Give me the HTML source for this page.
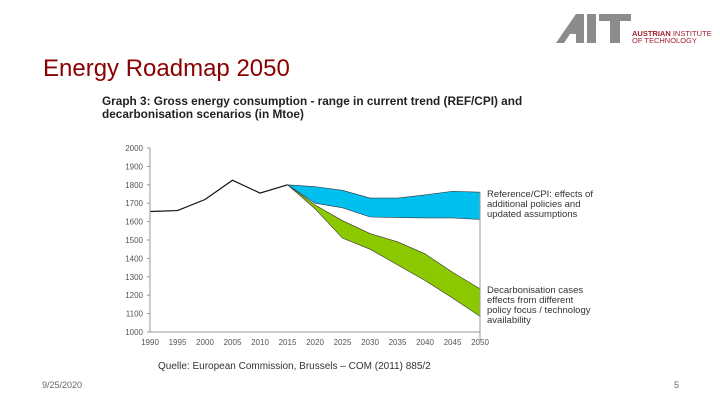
<!DOCTYPE html>
<html><head><meta charset="utf-8"><style>
body{margin:0;width:720px;height:405px;background:#fff;font-family:"Liberation Sans",sans-serif;position:relative;overflow:hidden}
.t{position:absolute;white-space:nowrap}
</style></head><body>
<div class="t" style="left:43px;top:55px;font-size:24px;color:#8b0000">Energy Roadmap 2050</div>
<div style="position:absolute;left:556px;top:12px">
<svg width="160" height="34"><polygon points="0,31 20,2 28,2 28,31 20,31 20,22 14,22 8,31" fill="#8c8c8c"/><rect x="31" y="2" width="9" height="29" fill="#8c8c8c"/><rect x="43" y="2" width="32" height="7" fill="#8c8c8c"/><rect x="54" y="2" width="10" height="29" fill="#8c8c8c"/>
<text x="76" y="24" font-size="7.5" fill="#a02030" font-family="Liberation Sans" font-weight="bold">AUSTRIAN <tspan font-weight="normal">INSTITUTE</tspan></text>
<text x="76" y="31" font-size="7.5" fill="#a02030" font-family="Liberation Sans">OF TECHNOLOGY</text></svg></div>
<div class="t" style="left:102px;top:95px;font-size:11.8px;font-weight:bold;color:#222;line-height:13px">Graph 3: Gross energy consumption - range in current trend (REF/CPI) and<br>decarbonisation scenarios (in Mtoe)</div>
<svg id="c" width="720" height="405" style="position:absolute;left:0;top:0"></svg>
<div class="t" style="left:487px;top:190px;font-size:9.5px;line-height:10px;color:#333">Reference/CPI: effects of<br>additional policies and<br>updated assumptions</div>
<div class="t" style="left:487px;top:286px;font-size:9.5px;line-height:10px;color:#333">Decarbonisation cases<br>effects from different<br>policy focus / technology<br>availability</div>
<div class="t" style="left:158px;top:361px;font-size:10px;color:#333">Quelle: European Commission, Brussels – COM (2011) 885/2</div>
<div class="t" style="left:42px;top:380px;font-size:9px;color:#666">9/25/2020</div>
<div class="t" style="left:674px;top:380px;font-size:9px;color:#666">5</div>
<script>
const years=[1990,1995,2000,2005,2010,2015,2020,2025,2030,2035,2040,2045,2050];
const history=[1655,1660,1720,1825,1755,1800];
const refUpper=[1800,1790,1770,1728,1728,1745,1765,1760];
const refLower=[1800,1700,1675,1625,1622,1620,1620,1612];
const decUpper=[1800,1690,1605,1535,1490,1425,1325,1235];
const decLower=[1800,1670,1510,1450,1365,1280,1185,1085];
const yTicks=[1000,1100,1200,1300,1400,1500,1600,1700,1800,1900,2000];
const NS="http://www.w3.org/2000/svg",svg=document.getElementById('c');
const X=y=>150+(y-1990)/60*330, Y=v=>332-(v-1000)/1000*184;
function mk(t,a){const e=document.createElementNS(NS,t);for(const k in a)e.setAttribute(k,a[k]);svg.appendChild(e);return e;}
const fy=years.slice(5);
function band(up,lo,col,name){const pts=fy.map((y,i)=>X(y)+','+Y(up[i])).concat(fy.map((y,i)=>X(y)+','+Y(lo[i])).reverse());
const p=mk('polygon',{points:pts.join(' '),fill:col,stroke:'#333','stroke-width':0.6});

}
band(refUpper,refLower,'#00c0f0','reference-band');
band(decUpper,decLower,'#8cc800','decarbonisation-band');
const l=mk('polyline',{points:history.map((v,i)=>X(years[i])+','+Y(v)).join(' '),fill:'none',stroke:'#111','stroke-width':1.2});


mk('line',{x1:150,y1:Y(2000),x2:150,y2:332,stroke:'#999'});
mk('line',{x1:150,y1:332,x2:480,y2:332,stroke:'#999'});
mk('line',{x1:480,y1:Y(1760),x2:480,y2:340,stroke:'#999'});
yTicks.forEach(v=>{mk('line',{x1:147,y1:Y(v),x2:150,y2:Y(v),stroke:'#999'});
const t=mk('text',{x:143,y:Y(v)+3,'font-size':8,'text-anchor':'end',fill:'#555','font-family':'Liberation Sans'});t.textContent=v;

});
years.forEach(y=>{const t=mk('text',{x:X(y),y:345,'font-size':8,'text-anchor':'middle',fill:'#555','font-family':'Liberation Sans'});t.textContent=y;

});
</script>
</body></html>
